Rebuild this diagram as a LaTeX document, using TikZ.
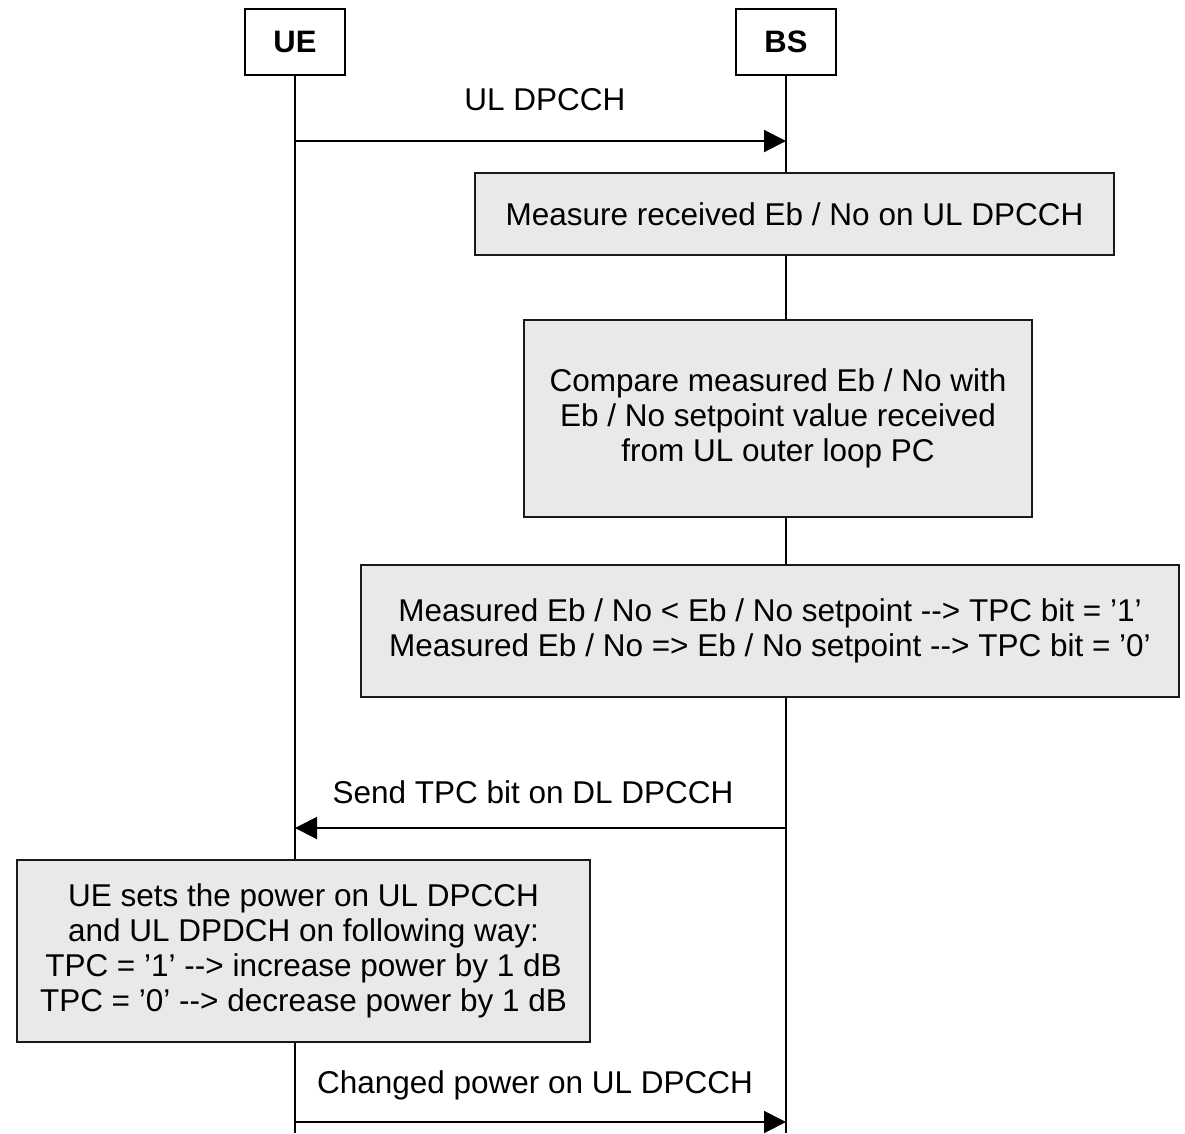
\documentclass[tikz,border=0pt]{standalone}
\usepackage{fontspec}
\setmainfont{Liberation Sans}
\usetikzlibrary{arrows.meta}
\tikzset{
  entity/.style={draw=black, line width=2pt, fill=white, minimum width=100pt, minimum height=66pt, inner sep=0pt, font=\fontsize{31}{35}\selectfont\bfseries},
  procbox/.style={draw=black!90, line width=2.2pt, fill=black!8.5, inner sep=0pt, align=center, font=\fontsize{31.5}{35}\selectfont},
  lifeline/.style={line width=2pt},
  msg/.style={line width=2pt, -{Triangle[length=22pt,width=22pt]}},
  msglabel/.style={inner sep=0pt, font=\fontsize{31.5}{35}\selectfont}
}
\begin{document}
\begin{tikzpicture}[x=1pt,y=-1pt]
\useasboundingbox (0,0) rectangle (1185,1133);
% entities
\node[entity] (ue) at (295,42) {UE};
\node[entity] (bs) at (786,42) {BS};
\coordinate (ueend) at (295,1133);
\coordinate (bsend) at (786,1133);
\draw[lifeline] (ue.south) -- (ueend);
\draw[lifeline] (bs.south) -- (bsend);
% message 1
\coordinate (m1s) at (295,141);
\coordinate (m1e) at (786,141);
\draw[msg] (m1s) -- (m1e);
\node[msglabel] (l1) at (545,100) {UL DPCCH};
% boxes
\node[procbox, minimum width=639pt, minimum height=82pt] (b1) at (794.5,214) {Measure received Eb / No on UL DPCCH};
\node[procbox, minimum width=508pt, minimum height=197pt] (b2) at (778,418.5) {Compare measured Eb / No with\\Eb / No setpoint value received\\from UL outer loop PC};
\node[procbox, minimum width=818pt, minimum height=132pt] (b3) at (770,631) {Measured Eb / No < Eb / No setpoint -{}-> TPC bit = ’1’\\Measured Eb / No => Eb / No setpoint -{}-> TPC bit = ’0’};
% message 2
\coordinate (m2s) at (786,828);
\coordinate (m2e) at (295,828);
\draw[msg] (m2s) -- (m2e);
\node[msglabel] (l2) at (533,792) {Send TPC bit on DL DPCCH};
% UE box
\node[procbox, minimum width=573pt, minimum height=182pt] (b4) at (303.5,951) {UE sets the power on UL DPCCH\\and UL DPDCH on following way:\\TPC = ’1’ -{}-> increase power by 1 dB\\TPC = ’0’ -{}-> decrease power by 1 dB};
% message 3
\coordinate (m3s) at (295,1122);
\coordinate (m3e) at (786,1122);
\draw[msg] (m3s) -- (m3e);
\node[msglabel] (l3) at (535,1085) {Changed power on UL DPCCH};
\end{tikzpicture}
\end{document}
